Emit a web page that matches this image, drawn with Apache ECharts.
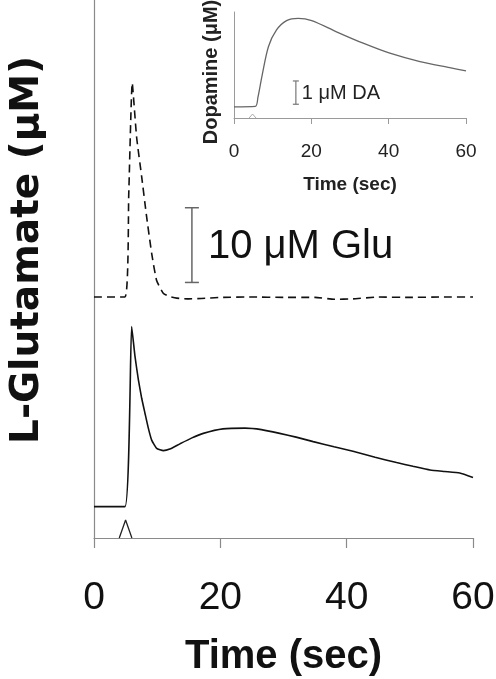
<!DOCTYPE html>
<html>
<head>
<meta charset="utf-8">
<script src="https://cdn.jsdelivr.net/npm/echarts@6/dist/echarts.min.js"></script>
<style>
  html, body { margin: 0; padding: 0; background: #fff; }
  #chart { width: 496px; height: 679px; }
</style>
</head>
<body>
<div id="chart"></div>
<script>
// main panel: glutamate traces (values in uM, dashed trace drawn offset above)
const xTicks = [0, 20, 40, 60];

const solidTime = [0, 4.9, 5.96, 6.49, 7.02, 7.55, 8.07, 8.6, 9.13, 9.92, 10.98, 12.0, 13.6, 15.5, 17.3, 20.4, 23.9, 26.5, 29.4, 32.0, 34.7, 38.0, 41.0, 44.5, 47.9, 50.5, 53.2, 55.5, 57.9, 60];
const solidGlu = [4.2, 4.2, 28.3, 24.3, 21.2, 18.7, 16.7, 14.7, 13.1, 12.0, 11.7, 11.9, 12.6, 13.4, 14.0, 14.6, 14.7, 14.5, 14.0, 13.5, 12.9, 12.2, 11.6, 10.8, 10.1, 9.6, 9.1, 8.9, 8.7, 8.1];

const dashTime = [0, 4.9, 5.5, 6.05, 6.74, 7.54, 8.33, 9.13, 9.9, 10.96, 12.0, 13.1, 15.0, 17.0, 20.0, 25.0, 30.0, 35.0, 38.0, 41.0, 45.0, 50.0, 55.0, 60];
const dashGlu = [32.25, 32.25, 46.0, 60.9, 53.7, 48.4, 43.0, 38.1, 34.5, 32.75, 32.3, 32.1, 32.0, 32.05, 32.2, 32.25, 32.2, 32.2, 31.95, 32.0, 32.25, 32.2, 32.25, 32.25];

const stimTime = [4.0, 5.0, 6.0];
const stimLevel = [0, 2.4, 0];

const gluBar = [[15.5, 34.2, 44.2]];
const gluBarLabel = "10 \u03bcM Glu";

// inset: dopamine
const daTime = [0, 5.5, 6.2, 7.2, 8.9, 11.0, 13.6, 16.6, 20.1, 26.5, 33.4, 40.3, 48.1, 55.8, 60];
const daConc = [0.48, 0.5, 0.9, 1.77, 3.06, 3.78, 4.18, 4.28, 4.18, 3.70, 3.21, 2.78, 2.42, 2.16, 2.02];
const daStimTime = [3.9, 4.8, 5.7];
const daStimLevel = [0, 0.17, 0];
const daBar = [[16.0, 0.59, 1.59]];
const daBarLabel = "1 \u03bcM DA";

const font = "Liberation Sans";
const pair = (xs, ys) => xs.map((x, i) => [x, ys[i]]);

function scaleBar(capHalf, color, width, label, labelStyle, labelGap) {
  return function (params, api) {
    const lo = api.coord([api.value(0), api.value(1)]);
    const hi = api.coord([api.value(0), api.value(2)]);
    const st = { stroke: color, lineWidth: width };
    return {
      type: "group",
      children: [
        { type: "line", shape: { x1: lo[0], y1: lo[1], x2: hi[0], y2: hi[1] }, style: st },
        { type: "line", shape: { x1: lo[0] - capHalf, y1: lo[1], x2: lo[0] + capHalf, y2: lo[1] }, style: st },
        { type: "line", shape: { x1: hi[0] - capHalf, y1: hi[1], x2: hi[0] + capHalf, y2: hi[1] }, style: st },
        {
          type: "text",
          x: lo[0] + labelGap,
          y: (lo[1] + hi[1]) / 2 + labelStyle.dy,
          style: Object.assign({ text: label, verticalAlign: "middle", align: "left" }, labelStyle.style)
        }
      ]
    };
  };
}

const chart = echarts.init(document.getElementById("chart"));
chart.setOption({
  animation: false,
  backgroundColor: "#fff",
  grid: [
    { left: 94, top: 0, width: 379, height: 538, outerBoundsMode: "none" },
    { left: 234, top: 12, width: 232, height: 106, outerBoundsMode: "none" }
  ],
  xAxis: [
    {
      gridIndex: 0, type: "value", min: 0, max: 60, interval: 20,
      axisLine: { lineStyle: { color: "#8a8a8a", width: 1.2 } },
      axisTick: { length: 10, lineStyle: { color: "#8a8a8a", width: 1.2 } },
      axisLabel: { fontFamily: font, fontSize: 39, color: "#111", margin: 41,
        formatter: v => (xTicks.includes(v) ? String(v) : "") },
      splitLine: { show: false },
      name: "Time (sec)", nameLocation: "middle", nameGap: 99,
      nameTextStyle: { fontFamily: font, fontSize: 40, fontWeight: "bold", color: "#111" }
    },
    {
      gridIndex: 1, type: "value", min: 0, max: 60, interval: 20,
      axisLine: { lineStyle: { color: "#9a9a9a", width: 1 } },
      axisTick: { length: 6, lineStyle: { color: "#9a9a9a", width: 1 } },
      axisLabel: { fontFamily: font, fontSize: 19, color: "#222", margin: 24 },
      splitLine: { show: false },
      name: "Time (sec)", nameLocation: "middle", nameGap: 57,
      nameTextStyle: { fontFamily: font, fontSize: 19, fontWeight: "bold", color: "#222" }
    }
  ],
  yAxis: [
    {
      gridIndex: 0, type: "value", min: 0, max: 72,
      axisLine: { show: true, lineStyle: { color: "#8a8a8a", width: 1.2 } },
      axisTick: { show: false }, axisLabel: { show: false }, splitLine: { show: false }
    },
    {
      gridIndex: 1, type: "value", min: 0, max: 4.55,
      axisLine: { show: true, lineStyle: { color: "#9a9a9a", width: 1 } },
      axisTick: { show: false }, axisLabel: { show: false }, splitLine: { show: false }
    }
  ],
  series: [
    {
      type: "line", xAxisIndex: 0, yAxisIndex: 0, data: pair(dashTime, dashGlu),
      showSymbol: false, smooth: 0.15,
      lineStyle: { color: "#111", width: 1.6, type: [8, 5] }
    },
    {
      type: "line", xAxisIndex: 0, yAxisIndex: 0, data: pair(solidTime, solidGlu),
      showSymbol: false, smooth: 0.15,
      lineStyle: { color: "#111", width: 1.6 }
    },
    {
      type: "line", xAxisIndex: 0, yAxisIndex: 0, data: pair(stimTime, stimLevel),
      showSymbol: false, lineStyle: { color: "#222", width: 1.3 }
    },
    {
      type: "custom", xAxisIndex: 0, yAxisIndex: 0, data: gluBar,
      renderItem: scaleBar(7, "#666", 1.5, gluBarLabel,
        { dy: 2, style: { fontFamily: font, fontSize: 40, fill: "#111" } }, 16)
    },
    {
      type: "line", xAxisIndex: 1, yAxisIndex: 1, data: pair(daTime, daConc),
      showSymbol: false, smooth: 0.3,
      lineStyle: { color: "#666", width: 1.3 }
    },
    {
      type: "line", xAxisIndex: 1, yAxisIndex: 1, data: pair(daStimTime, daStimLevel),
      showSymbol: false, lineStyle: { color: "#aaa", width: 1 }
    },
    {
      type: "custom", xAxisIndex: 1, yAxisIndex: 1, data: daBar,
      renderItem: scaleBar(3, "#777", 1.2, daBarLabel,
        { dy: 1, style: { fontFamily: font, fontSize: 20, fill: "#222" } }, 6)
    }
  ],
  graphic: [
    {
      type: "text", x: 28, y: 250, rotation: Math.PI / 2,
      style: { text: "L-Glutamate (\u03bcM)", fontFamily: "DejaVu Sans", fontSize: 39, fontWeight: "bold",
        fill: "#111", align: "center", verticalAlign: "middle" }
    },
    {
      type: "text", x: 211, y: 72, rotation: Math.PI / 2,
      style: { text: "Dopamine (\u03bcM)", fontFamily: font, fontSize: 20, fontWeight: "bold",
        fill: "#222", align: "center", verticalAlign: "middle" }
    }
  ]
});
</script>
</body>
</html>
